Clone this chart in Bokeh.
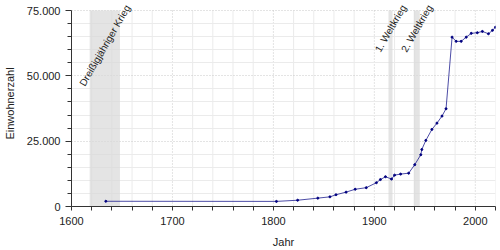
import math
from bokeh.plotting import figure
from bokeh.models import (Range1d, FixedTicker, CustomJSTickFormatter, BoxAnnotation,
                          ColumnDataSource, LabelSet)
from bokeh.core.properties import value
from bokeh.embed import file_html
from bokeh.resources import INLINE

years = [1634, 1803, 1824, 1844, 1856, 1862, 1872, 1881, 1892, 1902, 1906, 1911, 1917, 1920,
         1926, 1934, 1940, 1946, 1947, 1951, 1957, 1962, 1967, 1971, 1977, 1981, 1986, 1991,
         1996, 2002, 2007, 2013, 2017, 2020]
population = [2000, 1950, 2400, 3200, 3700, 4500, 5500, 6600, 7200, 9100, 10300, 11400, 10500, 12000,
              12400, 12750, 16000, 19800, 21800, 25300, 29500, 31900, 34600, 37400, 64800, 63200, 63200, 64800,
              66250, 66500, 67000, 66100, 67400, 68600]

band_names = ["Dreißigjähriger Krieg", "1. Weltkrieg", "2. Weltkrieg"]
band_start = [1618, 1914, 1939]
band_end = [1648, 1918, 1945]

x_ticks = [1600, 1700, 1800, 1900, 2000]
y_ticks = [0, 25000, 50000, 75000]
x_minor = [y for y in range(1600, 2021, 20) if y not in x_ticks]
y_minor = [v for v in range(0, 75001, 5000) if v not in y_ticks]

FONT = "Liberation Sans"
LABEL_SIZE = 10
ANGLE = math.radians(60)
Y_TOP = y_ticks[-1]
FRAME_H = 206          # frame reaches the top of the canvas; data top sits 10 px below
Y_END = Y_TOP * FRAME_H / (FRAME_H - 10)

p = figure(width=500, height=250, x_range=Range1d(1600, 2020), y_range=Range1d(0, Y_END),
           output_backend="svg", toolbar_location=None,
           min_border_left=68, min_border_right=5, min_border_top=0, min_border_bottom=44)
p.outline_line_color = None
p.background_fill_color = "white"

# vertical grid lines, limited to the data area
p.xgrid.visible = False
p.segment(x0=x_minor, y0=[0] * len(x_minor), x1=x_minor, y1=[Y_TOP] * len(x_minor),
          line_color="#ebebeb", line_width=1, level="underlay")
p.segment(x0=x_ticks, y0=[0] * len(x_ticks), x1=x_ticks, y1=[Y_TOP] * len(x_ticks),
          line_color="#c8c8c8", line_width=1, line_dash="1 2", level="underlay")

for s, e in zip(band_start, band_end):
    p.add_layout(BoxAnnotation(left=s, right=e, bottom=0, top=Y_TOP, fill_color="#d8d8d8",
                               fill_alpha=0.7, line_color=None, level="underlay"))

p.xaxis.ticker = FixedTicker(ticks=x_ticks, minor_ticks=x_minor)
p.yaxis.ticker = FixedTicker(ticks=y_ticks, minor_ticks=y_minor)
p.yaxis.bounds = (0, Y_TOP)
p.yaxis.formatter = CustomJSTickFormatter(
    code="return tick.toFixed(0).replace(/\\B(?=(\\d{3})+(?!\\d))/g, '.');")

p.ygrid.grid_line_color = "#c8c8c8"
p.ygrid.grid_line_dash = "1 2"
p.ygrid.minor_grid_line_color = "#ebebeb"
p.ygrid.minor_grid_line_width = 1

for ax in (p.xaxis, p.yaxis):
    ax.axis_line_color = "#333333"
    ax.axis_line_width = 1
    ax.major_tick_line_color = "#333333"
    ax.minor_tick_line_color = "#333333"
    ax.major_tick_in = 0
    ax.minor_tick_in = 0
    ax.major_label_text_font = FONT
    ax.major_label_text_font_size = "11px"
    ax.major_label_text_color = "#222222"
    ax.axis_label_text_font = FONT
    ax.axis_label_text_font_size = "11px"
    ax.axis_label_text_font_style = "normal"
    ax.axis_label_text_color = "#222222"

p.xaxis.axis_label = "Jahr"
p.yaxis.axis_label = "Einwohnerzahl"
p.xaxis.major_tick_out = 4
p.xaxis.minor_tick_out = 4
p.yaxis.major_tick_out = 6
p.yaxis.minor_tick_out = 4
p.xaxis.major_label_standoff = 6
p.yaxis.major_label_standoff = 5
p.xaxis.axis_label_standoff = 8
p.yaxis.axis_label_standoff = 8

# labels: centred on each band, upper end of text just above the data top
centers = [(s + e) / 2 for s, e in zip(band_start, band_end)]
half_len = [0.44 * LABEL_SIZE * len(t) / 2 for t in band_names]
dy = [-(h * math.sin(ANGLE) - 5) for h in half_len]
lab_src = ColumnDataSource(dict(x=centers, y=[Y_TOP] * len(centers), t=band_names, dy=dy))
p.add_layout(LabelSet(x="x", y="y", text="t", source=lab_src, angle=ANGLE,
                      text_align="center", text_baseline="middle", y_offset="dy",
                      text_font=value(FONT), text_font_size=f"{LABEL_SIZE}px",
                      text_color="#222222"))

src = ColumnDataSource(dict(x=years, y=population))
p.line(x="x", y="y", source=src, line_color="#000080", line_width=1, line_alpha=0.7)
p.scatter(x="x", y="y", source=src, size=2, color="#000080", marker="circle")

open("out.html", "w").write(file_html(p, INLINE))
